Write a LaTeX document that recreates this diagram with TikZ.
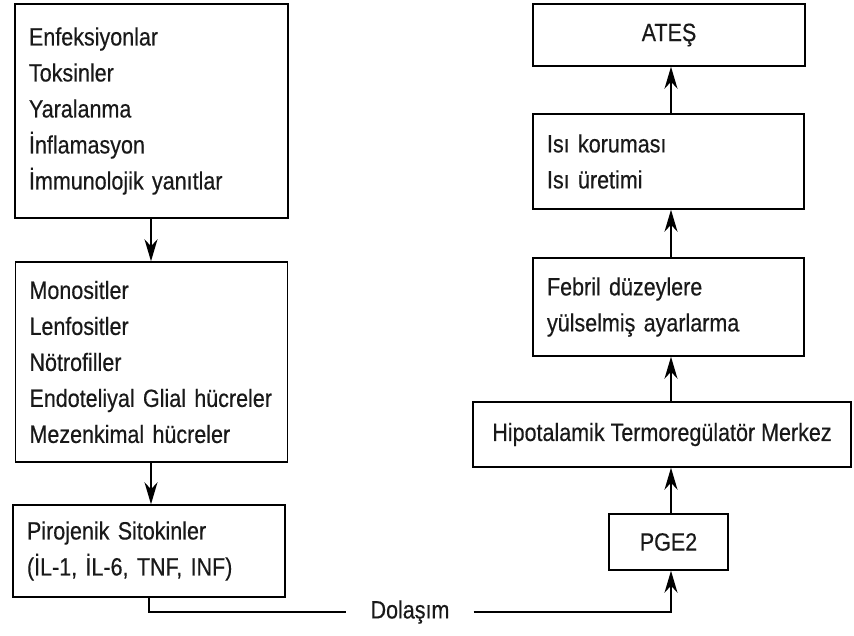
\documentclass[tikz,border=0pt]{standalone}
\usepackage{fontspec}
\setmainfont[FakeStretch=0.86,FakeBold=0.4]{Liberation Sans}
\usetikzlibrary{arrows.meta}
\begin{document}
\begin{tikzpicture}[x=1pt,y=-1pt,
  box/.style={draw, line width=1.5pt, rectangle, inner ysep=0pt, inner xsep=14pt,
    font=\fontsize{25}{36}\selectfont, text=black!90},
  lbox/.style={box, align=left},
  cbox/.style={box, align=center},
  arr/.style={line width=1.5pt, -{Stealth[length=22pt,width=13pt,inset=7pt]}},
  conn/.style={line width=1.5pt}]
\useasboundingbox (0,0) rectangle (854,635);
% left column
\node[lbox, text width=245pt, minimum height=214pt] (b1) at (151.5,111)
  {Enfeksiyonlar\\Toksinler\\Yaralanma\\İnflamasyon\\İmmunolojik yanıtlar};
\node[lbox, text width=244pt, minimum height=200pt] (b2) at (151.5,362)
  {Monositler\\Lenfositler\\Nötrofiller\\Endoteliyal Glial hücreler\\Mezenkimal hücreler};
\node[lbox, text width=244pt, minimum height=92pt] (b3) at (149,551)
  {Pirojenik Sitokinler\\(İL-1, İL-6, TNF, INF)};
% right column
\node[cbox, minimum width=272pt, minimum height=62pt] (ates) at (669,35) {ATEŞ};
\node[lbox, text width=243pt, minimum height=95pt] (isi) at (668.5,161.5)
  {Isı koruması\\Isı üretimi};
\node[lbox, text width=243pt, minimum height=98pt] (feb) at (668.5,307)
  {Febril düzeylere\\yülselmiş ayarlarma};
\node[cbox, minimum width=378pt, minimum height=65pt] (hipo) at (662,434.5)
  {Hipotalamik Termoregülatör Merkez};
\node[cbox, minimum width=119pt, minimum height=56pt] (pge) at (668.5,542) {PGE2};
\node[font=\fontsize{25}{36}\selectfont, text=black!90, inner xsep=24pt, inner ysep=2pt] (dol) at (410,612) {Dolaşım};
\coordinate (xl) at (151,0);
\coordinate (xr) at (671,0);
% connectors
\draw[arr] (b1.south -| xl) -- (b2.north -| xl);
\draw[arr] (b2.south -| xl) -- (b3.north -| xl);
\draw[conn] (b3.south) |- (dol.west);
\draw[arr] (dol.east) -| (pge.south -| xr);
\draw[arr] (pge.north -| xr) -- (hipo.south -| xr);
\draw[arr] (hipo.north -| xr) -- (feb.south -| xr);
\draw[arr] (feb.north -| xr) -- (isi.south -| xr);
\draw[arr] (isi.north -| xr) -- (ates.south -| xr);
\end{tikzpicture}
\end{document}
